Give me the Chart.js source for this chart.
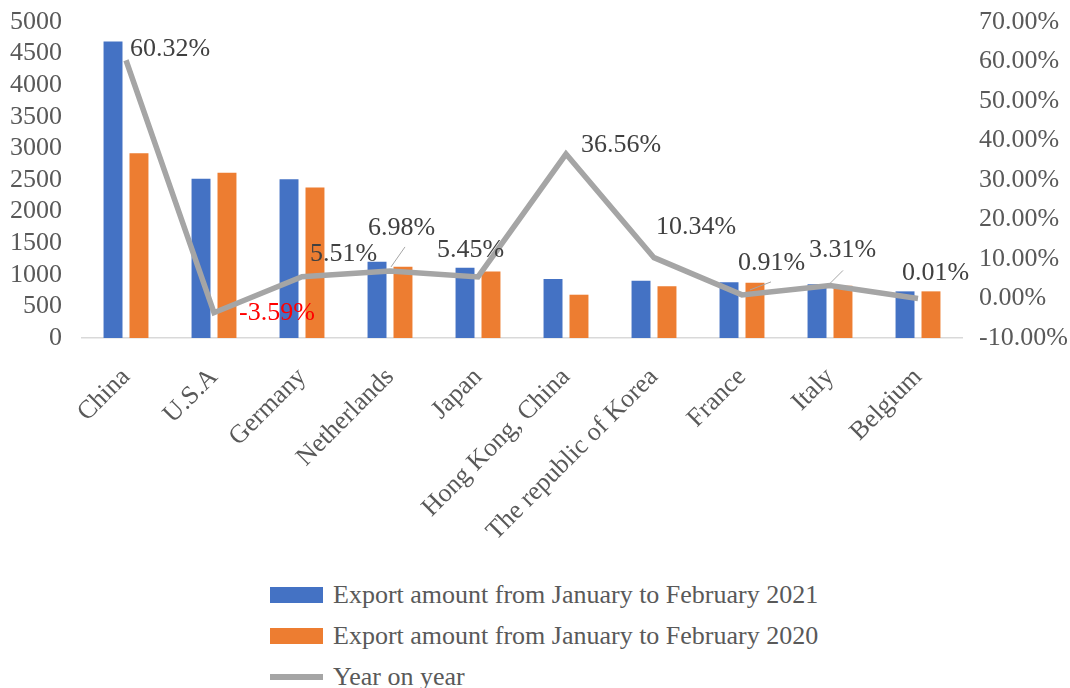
<!DOCTYPE html>
<html>
<head>
<meta charset="utf-8">
<script src="https://cdn.jsdelivr.net/npm/chart.js@4"></script>
<style>
  body { margin: 0; background: #fff; font-family: "Liberation Serif", serif; }
  #wrap { position: relative; width: 1070px; height: 688px; }
  #chart { position: absolute; left: 0; top: 0; }
  #legend { position: absolute; left: 270px; top: 575px; color: #595959; font-size: 26px; }
  #legend .row { display: flex; align-items: center; height: 40.7px; }
  #legend .sw { width: 53px; margin-right: 10px; }
</style>
</head>
<body>
<div id="wrap">
  <canvas id="chart" width="1070" height="560"></canvas>
  <div id="legend"></div>
</div>
<script>
// Chart data
const categories = ["China", "U.S.A", "Germany", "Netherlands", "Japan",
  "Hong Kong, China", "The republic of Korea", "France", "Italy", "Belgium"];
const export2021 = [4690, 2520, 2510, 1205, 1110, 935, 905, 882, 852, 738];
const export2020 = [2925, 2614, 2380, 1126, 1053, 685, 820, 874, 825, 738];
const yoy = [60.32, -3.59, 5.51, 6.98, 5.45, 36.56, 10.34, 0.91, 3.31, 0.01];
const leftTicks = [0, 5000, 500];
const rightTicks = [-10, 70, 10];

// label placement relative to each line point: [dx, dy, leader]
const labelPos = [
  [4, -11], [25, 0], [8, -23], [-22, -43, [15, -24, 1, -4]], [-41, -27],
  [15, -9], [2, -30], [-4, -32, [29, -13, 8, -5]], [-21, -35, [13, -15, 0, -2]], [-16, -25]
];

const textColor = "#595959";
const font = { family: "Liberation Serif", size: 26 };

const valueLabels = {
  id: "valueLabels",
  afterDatasetsDraw(chart) {
    const meta = chart.getDatasetMeta(0);
    const ctx = chart.ctx;
    ctx.save();
    ctx.font = "26px 'Liberation Serif'";
    ctx.textAlign = "left";
    ctx.textBaseline = "middle";
    meta.data.forEach((pt, i) => {
      const [dx, dy, lead] = labelPos[i];
      if (lead) {
        ctx.strokeStyle = "#A5A5A5";
        ctx.lineWidth = 1;
        ctx.beginPath();
        ctx.moveTo(pt.x + lead[0], pt.y + lead[1]);
        ctx.lineTo(pt.x + lead[2], pt.y + lead[3]);
        ctx.stroke();
      }
      ctx.fillStyle = yoy[i] < 0 ? "#FF0000" : "#404040";
      ctx.fillText(yoy[i].toFixed(2) + "%", pt.x + dx, pt.y + dy);
    });
    ctx.restore();
  }
};

// fixed axis sizes so the plot area lands where the reference has it
function fixY(width) {
  return s => { s.width = width; s.paddingTop = 0; s.paddingBottom = 0; };
}

const chart = new Chart(document.getElementById("chart"), {
  data: {
    labels: categories,
    datasets: [
      {
        type: "line",
        label: "Year on year",
        data: yoy,
        yAxisID: "y2",
        borderColor: "#A5A5A5",
        backgroundColor: "#A5A5A5",
        borderWidth: 5.5,
        pointRadius: 0,
        tension: 0,
        order: 0
      },
      {
        type: "bar",
        label: "Export amount from January to February 2021",
        data: export2021,
        yAxisID: "y",
        backgroundColor: "#4472C4",
        categoryPercentage: 0.59,
        barPercentage: 0.73,
        order: 1
      },
      {
        type: "bar",
        label: "Export amount from January to February 2020",
        data: export2020,
        yAxisID: "y",
        backgroundColor: "#ED7D31",
        categoryPercentage: 0.59,
        barPercentage: 0.73,
        order: 1
      }
    ]
  },
  options: {
    responsive: false,
    animation: false,
    layout: { padding: { top: 22, right: 0, left: 0, bottom: 0 } },
    plugins: { legend: { display: false }, tooltip: { enabled: false } },
    scales: {
      x: {
        grid: { display: false, drawTicks: false },
        border: { display: true, color: "#D9D9D9", width: 1.5 },
        ticks: { color: textColor, font: font, maxRotation: 45, minRotation: 45,
          padding: 24, autoSkip: false },
        afterFit(s) { s.height = 222; s.paddingLeft = 0; s.paddingRight = 0; }
      },
      y: {
        position: "left",
        min: leftTicks[0], max: leftTicks[1],
        grid: { display: false, drawTicks: false },
        border: { display: false },
        ticks: { stepSize: leftTicks[2], color: textColor, font: font, padding: 20,
          autoSkip: false, callback: v => String(v) },
        afterFit: fixY(82)
      },
      y2: {
        position: "right",
        min: rightTicks[0], max: rightTicks[1],
        grid: { display: false, drawTicks: false },
        border: { display: false },
        ticks: { stepSize: rightTicks[2], color: textColor, font: font, padding: 17,
          autoSkip: false, callback: v => v.toFixed(2) + "%" },
        afterFit: fixY(108)
      }
    }
  },
  plugins: [valueLabels]
});

// Legend in a single column, built from the datasets
const legend = document.getElementById("legend");
[1, 2, 0].forEach(i => {
  const ds = chart.data.datasets[i];
  const row = document.createElement("div");
  row.className = "row";
  const sw = document.createElement("div");
  sw.className = "sw";
  sw.style.height = ds.type === "line" ? "6px" : "16px";
  sw.style.background = ds.type === "line" ? ds.borderColor : ds.backgroundColor;
  const txt = document.createElement("span");
  txt.textContent = ds.label;
  row.appendChild(sw);
  row.appendChild(txt);
  legend.appendChild(row);
});
</script>
</body>
</html>
